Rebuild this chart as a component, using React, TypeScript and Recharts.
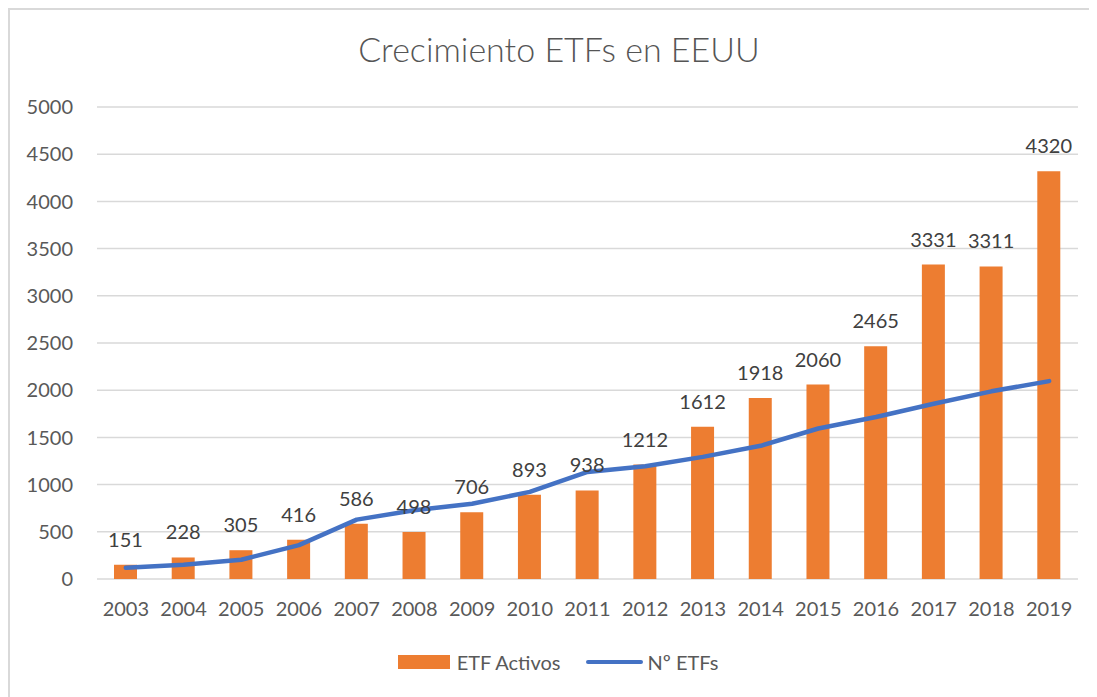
import React from "react";
import {
  ComposedChart,
  Bar,
  Line,
  XAxis,
  YAxis,
  CartesianGrid,
  Legend,
  LabelList,
} from "recharts";

const years = ["2003", "2004", "2005", "2006", "2007", "2008", "2009", "2010", "2011", "2012", "2013", "2014", "2015", "2016", "2017", "2018", "2019"];
const etfActivos = [151, 228, 305, 416, 586, 498, 706, 893, 938, 1212, 1612, 1918, 2060, 2465, 3331, 3311, 4320];
const numEtfs = [119, 152, 204, 359, 629, 728, 797, 923, 1134, 1194, 1294, 1411, 1594, 1716, 1856, 1988, 2096];
const yTicks = [0, 500, 1000, 1500, 2000, 2500, 3000, 3500, 4000, 4500, 5000];

const data = years.map((y, i) => ({ year: y, activos: etfActivos[i], num: numEtfs[i] }));

const FONT = "Lato, 'Open Sans', sans-serif";
const TEXT = "#595959";

const LegendContent = () => (
  <div
    style={{
      height: 30,
      display: "flex",
      alignItems: "center",
      justifyContent: "center",
      paddingLeft: 30,
      fontFamily: FONT,
      fontSize: 20,
      color: TEXT,
    }}
  >
    <span style={{ display: "inline-block", width: 52, height: 14, background: "#ED7D31", marginRight: 7 }} />
    <span>ETF Activos</span>
    <span
      style={{
        display: "inline-block",
        width: 57,
        height: 4,
        borderRadius: 2,
        background: "#4472C4",
        marginLeft: 26,
        marginRight: 4,
      }}
    />
    <span>Nº ETFs</span>
  </div>
);

export default function App() {
  return (
    <div
      style={{
        position: "relative",
        width: 1089,
        height: 689,
        borderTop: "2px solid #d9d9d9",
        borderLeft: "2px solid #d9d9d9",
        boxSizing: "border-box",
        background: "#fff",
      }}
    >
      <div
        style={{
          position: "absolute",
          left: 0,
          top: 19,
          width: 1098,
          textAlign: "center",
          fontFamily: FONT,
          fontWeight: 300,
          fontSize: 34,
          color: "#555555",
          lineHeight: "40px",
        }}
      >
        Crecimiento ETFs en EEUU
      </div>
      <ComposedChart
        width={1087}
        height={687}
        data={data}
        margin={{ top: 99, right: 17, bottom: 18, left: 0 }}
        style={{ position: "absolute", left: -2, top: -2 }}
      >
        <CartesianGrid vertical={false} stroke="#d9d9d9" strokeWidth={1.5} />
        <XAxis
          dataKey="year"
          axisLine={false}
          tickLine={false}
          tickSize={0}
          tickMargin={23}
          height={68}
          interval={0}
          tick={{ fill: TEXT, fontSize: 20, fontFamily: FONT }}
        />
        <YAxis
          domain={[0, 5000]}
          ticks={yTicks}
          axisLine={false}
          tickLine={false}
          tickSize={0}
          tickMargin={24}
          width={89}
          tick={{ fill: TEXT, fontSize: 20, fontFamily: FONT }}
        />
        <Legend verticalAlign="bottom" content={<LegendContent />} />
        <Bar dataKey="activos" name="ETF Activos" fill="#ED7D31" barSize={23} isAnimationActive={false}>
          <LabelList
            dataKey="activos"
            position="top"
            offset={18}
            style={{ fill: "#404040", fontSize: 20, fontFamily: FONT }}
          />
        </Bar>
        <Line
          dataKey="num"
          name="Nº ETFs"
          type="linear"
          stroke="#4472C4"
          strokeWidth={4.5}
          strokeLinecap="round"
          strokeLinejoin="round"
          dot={false}
          activeDot={false}
          isAnimationActive={false}
        />
      </ComposedChart>
    </div>
  );
}
